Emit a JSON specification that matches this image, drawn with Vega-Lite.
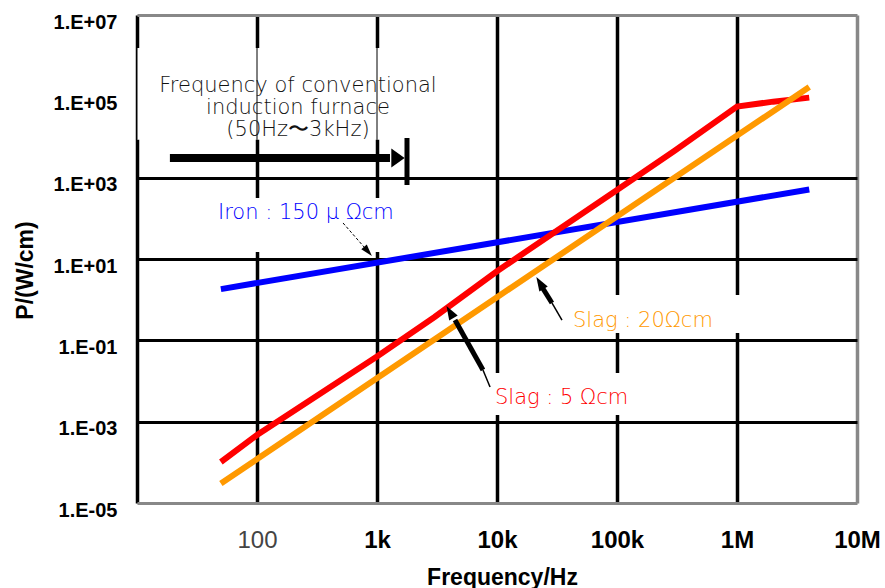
{
  "$schema": "https://vega.github.io/schema/vega-lite/v6.json",
  "width": 720,
  "height": 488,
  "autosize": {"type": "none"},
  "padding": {"left": 137, "top": 15, "right": 28, "bottom": 85},
  "background": "white",
  "config": {"view": {"stroke": null}},
  "datasets": {
    "curves": [
      {"series": "Iron", "f": 50, "p": 1.82},
      {"series": "Iron", "f": 4000000, "p": 513},
      {"series": "Slag5", "f": 50, "p": 0.000102},
      {"series": "Slag5", "f": 100, "p": 0.00047},
      {"series": "Slag5", "f": 1000, "p": 0.040},
      {"series": "Slag5", "f": 3000, "p": 0.37},
      {"series": "Slag5", "f": 10000, "p": 5.0},
      {"series": "Slag5", "f": 100000, "p": 500},
      {"series": "Slag5", "f": 300000, "p": 4500},
      {"series": "Slag5", "f": 1000000, "p": 56000},
      {"series": "Slag5", "f": 2000000, "p": 74000},
      {"series": "Slag5", "f": 4000000, "p": 93000},
      {"series": "Slag20", "f": 50, "p": 0.00003},
      {"series": "Slag20", "f": 10000, "p": 1.15},
      {"series": "Slag20", "f": 4000000, "p": 170000}
    ],
    "boxes": [
      {"f": 40.7, "f2": 1700, "p": 14.8, "p2": 316},
      {"f": 25100, "f2": 1290000, "p": 0.151, "p2": 1.30},
      {"f": 7900, "f2": 141000, "p": 0.00145, "p2": 0.0158},
      {"f": 10, "f2": 3700, "p": 8510, "p2": 1550000}
    ],
    "thin": [
      {"f": 10, "p": 8510, "p2": 1550000},
      {"f": 100, "p": 8510, "p2": 1550000},
      {"f": 1000, "p": 8510, "p2": 1550000}
    ]
  },
  "encoding": {
    "x": {
      "field": "f", "type": "quantitative",
      "scale": {"type": "log", "domain": [10, 10000000]},
      "axis": {
        "title": "Frequency/Hz",
        "values": [10, 100, 1000, 10000, 100000, 1000000, 10000000],
        "labelExpr": "datum.value==100?'100':datum.value==1000?'1k':datum.value==10000?'10k':datum.value==100000?'100k':datum.value==1000000?'1M':datum.value==10000000?'10M':''",
        "grid": true,
        "gridColor": {"condition": {"test": "datum.value > 5000000", "value": "#888888"}, "value": "black"},
        "gridWidth": 3.5,
        "gridOpacity": 1,
        "ticks": false,
        "domain": false,
        "labelFont": "Liberation Sans",
        "labelFontSize": 24,
        "labelFontWeight": {"condition": {"test": "datum.value == 100", "value": "normal"}, "value": "bold"},
        "labelColor": {"condition": {"test": "datum.value == 100", "value": "#444444"}, "value": "black"},
        "labelPadding": 25,
        "labelOverlap": false,
        "labelFlush": false,
        "labelBound": false,
        "titleFont": "Liberation Sans",
        "titleFontSize": 23,
        "titleFontWeight": "bold",
        "titleColor": "black",
        "titleBaseline": "alphabetic",
        "titleX": 365,
        "titleY": 81
      }
    },
    "y": {
      "field": "p", "type": "quantitative",
      "scale": {"type": "log", "domain": [0.00001, 10000000]},
      "axis": {
        "title": "P/(W/cm)",
        "values": [0.00001, 0.001, 0.1, 10, 1000, 100000, 10000000],
        "labelExpr": "datum.value<1e-4?'1.E-05':datum.value<1e-2?'1.E-03':datum.value<1?'1.E-01':datum.value<100?'1.E+01':datum.value<1e4?'1.E+03':datum.value<1e6?'1.E+05':'1.E+07'",
        "grid": true,
        "gridColor": {"condition": {"test": "datum.value > 1000000 || datum.value < 0.0001", "value": "#888888"}, "value": "black"},
        "gridOpacity": {"condition": {"test": "datum.value > 10000 && datum.value < 1000000", "value": 0}, "value": 1},
        "gridWidth": 3,
        "ticks": false,
        "domain": false,
        "labelFont": "Liberation Sans",
        "labelFontSize": 20,
        "labelFontWeight": "bold",
        "labelColor": "black",
        "labelPadding": 20,
        "labelOffset": 7,
        "labelOverlap": false,
        "labelFlush": false,
        "labelBound": false,
        "titleFont": "Liberation Sans",
        "titleFontSize": 23,
        "titleFontWeight": "bold",
        "titleColor": "black",
        "titleAngle": -90,
        "titleAlign": "center",
        "titleBaseline": "middle",
        "titleX": -112,
        "titleY": 255
      }
    }
  },
  "layer": [
    {
      "data": {"name": "boxes"},
      "mark": {"type": "rect", "fill": "white", "stroke": null},
      "encoding": {"x2": {"field": "f2"}, "y2": {"field": "p2"}}
    },
    {
      "data": {"name": "thin"},
      "mark": {"type": "rule", "color": "black", "strokeWidth": 1},
      "encoding": {"y2": {"field": "p2"}}
    },
    {
      "data": {"name": "curves"},
      "mark": {"type": "line", "strokeWidth": 6, "strokeCap": "butt", "strokeJoin": "miter", "clip": true},
      "encoding": {
        "color": {"field": "series", "type": "nominal",
          "scale": {"domain": ["Iron", "Slag5", "Slag20"], "range": ["#0000FF", "#FF0000", "#FF9900"]},
          "legend": null},
        "detail": {"field": "series"}
      }
    },
    {
      "data": {"values": [{"f": 18.8, "f2": 1283, "p": 3048}]},
      "mark": {"type": "rule", "color": "black", "strokeWidth": 8},
      "encoding": {"x2": {"field": "f2"}}
    },
    {
      "data": {"values": [{"f": 1778, "p": 660, "p2": 9460}]},
      "mark": {"type": "rule", "color": "black", "strokeWidth": 5},
      "encoding": {"y2": {"field": "p2"}}
    },
    {
      "data": {"values": [{"f": 1496, "p": 3048}]},
      "mark": {"type": "point", "shape": "M-0.7,-1L0.7,0L-0.7,1Z", "size": 361, "filled": true, "color": "black", "opacity": 1},
      "encoding": {}
    },
    {
      "data": {"values": [{"f": 521, "p": 76.9}, {"f": 794, "p": 18.6}]},
      "mark": {"type": "line", "color": "black", "strokeWidth": 1, "strokeDash": [3, 2]},
      "encoding": {}
    },
    {
      "data": {"values": [{"f": 841, "p": 15.3}]},
      "mark": {"type": "point", "shape": "M0,-1L0.6,1L-0.6,1Z", "size": 144, "angle": 139, "filled": true, "color": "black", "opacity": 1},
      "encoding": {}
    },
    {
      "data": {"values": [{"f": 7640, "p": 0.01866}, {"f": 4467, "p": 0.316}]},
      "mark": {"type": "line", "color": "black", "strokeWidth": 5},
      "encoding": {}
    },
    {
      "data": {"values": [{"f": 8750, "p": 0.00713}, {"f": 7640, "p": 0.01866}]},
      "mark": {"type": "line", "color": "black", "strokeWidth": 1.5},
      "encoding": {}
    },
    {
      "data": {"values": [{"f": 4056, "p": 0.498}]},
      "mark": {"type": "point", "shape": "M0,-1L0.7,1L-0.7,1Z", "size": 196, "angle": 330, "filled": true, "color": "black", "opacity": 1},
      "encoding": {}
    },
    {
      "data": {"values": [{"f": 28700, "p": 0.83}, {"f": 23700, "p": 2.05}]},
      "mark": {"type": "line", "color": "black", "strokeWidth": 5},
      "encoding": {}
    },
    {
      "data": {"values": [{"f": 34800, "p": 0.316}, {"f": 28700, "p": 0.83}]},
      "mark": {"type": "line", "color": "black", "strokeWidth": 1.5},
      "encoding": {}
    },
    {
      "data": {"values": [{"f": 22800, "p": 2.57}]},
      "mark": {"type": "point", "shape": "M0,-1L0.7,1L-0.7,1Z", "size": 196, "angle": 329, "filled": true, "color": "black", "opacity": 1},
      "encoding": {}
    },
    {
      "data": {"values": [
        {"text": "Frequency of conventional", "f": 219.6, "p": 179500},
        {"text": "induction furnace", "f": 219.6, "p": 51600},
        {"text": "(50Hz〜3kHz)", "f": 219.6, "p": 14860}
      ]},
      "mark": {"type": "text", "font": "DejaVu Sans", "fontSize": 21, "fontWeight": 300, "color": "#111111", "align": "center", "baseline": "middle"},
      "encoding": {"text": {"field": "text"}}
    },
    {
      "data": {"values": [
        {"text": "Iron : 150 μ Ωcm", "series": "Iron", "f": 47.3, "p": 135},
        {"text": "Slag : 20Ωcm", "series": "Slag20", "f": 43000, "p": 0.299},
        {"text": "Slag : 5 Ωcm", "series": "Slag5", "f": 9620, "p": 0.00383}
      ]},
      "mark": {"type": "text", "font": "DejaVu Sans", "fontSize": 21, "fontWeight": 300, "align": "left", "baseline": "middle"},
      "encoding": {
        "text": {"field": "text"},
        "color": {"field": "series", "type": "nominal", "legend": null}
      }
    }
  ]
}
